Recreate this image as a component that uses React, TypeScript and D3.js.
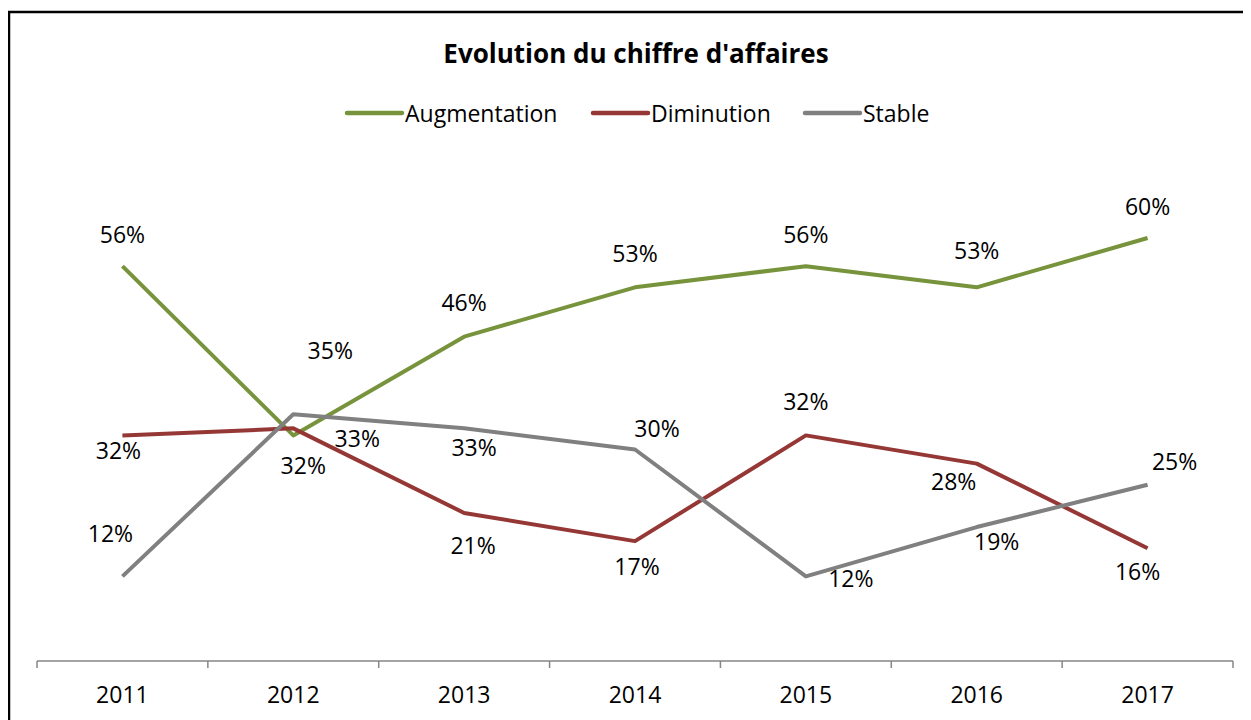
import React from "react";
import * as d3 from "d3";

const years = ["2011", "2012", "2013", "2014", "2015", "2016", "2017"];
const augmentation = [56, 32, 46, 53, 56, 53, 60];
const diminution = [32, 33, 21, 17, 32, 28, 16];
const stable = [12, 35, 33, 30, 12, 19, 25];
const seriesNames = ["Augmentation", "Diminution", "Stable"];
const seriesColors = ["#77933C", "#953735", "#808080"];
// label offsets (dx, dy) relative to points
const augOffsets = [[0, -32], [10, 30], [0, -35], [0, -34], [0, -32], [0, -37], [0, -32]];
const dimOffsets = [[-4, 15], [64, 10], [9, 32], [2, 25], [0, -34], [-23, 17], [-10, 23]];
const staOffsets = [[-12, -43], [37, -64], [10, 19], [22, -22], [45, 2], [20, 14], [27, -24]];

const FONT = "'Open Sans', 'Liberation Sans', sans-serif";

export default function App() {
  const W = 1243, H = 712;
  const ox = -8, oy = -8; // page offset
  const x = d3.scaleBand().domain(years).range([37 + ox, 1233 + ox]);
  const y = d3.scaleLinear().domain([0, 60]).range([661 + oy, 238 + oy]);
  const series = [augmentation, diminution, stable];
  const offsets = [augOffsets, dimOffsets, staOffsets];
  const line = d3.line<number>().x((_, i) => (x(years[i]) as number) + x.bandwidth() / 2).y((v) => y(v));
  const axisY = y(0);
  const ticks = [...years.map((yr) => x(yr) as number), x.range()[1]];
  const legendX = [347, 593, 805];
  return (
    <svg width={W} height={H} style={{ display: "block" }} fontFamily={FONT}>
      <rect x={1} y={4} width={W + 10} height={H + 10} fill="white" stroke="#000" strokeWidth={2.5} />
      <text x={636 + ox} y={53 + oy} textAnchor="middle" dominantBaseline="central" fontWeight="bold" fontSize={26} fill="#000">
        Evolution du chiffre d'affaires
      </text>
      {seriesNames.map((n, i) => (
        <g key={n}>
          <line x1={legendX[i] + ox} x2={legendX[i] + 55 + ox} y1={113 + oy} y2={113 + oy} stroke={seriesColors[i]} strokeWidth={4.5} strokeLinecap="round" />
          <text x={legendX[i] + 58 + ox} y={113 + oy} dominantBaseline="central" fontSize={23} fill="#000">{n}</text>
        </g>
      ))}
      <line x1={x.range()[0]} x2={x.range()[1]} y1={axisY} y2={axisY} stroke="#868686" strokeWidth={1.5} />
      {ticks.map((t, i) => (
        <line key={i} x1={t} x2={t} y1={axisY} y2={axisY + 7} stroke="#868686" strokeWidth={1.5} />
      ))}
      {years.map((yr) => (
        <text key={yr} x={(x(yr) as number) + x.bandwidth() / 2} y={694 + oy} textAnchor="middle" dominantBaseline="central" fontSize={23} fill="#000">{yr}</text>
      ))}
      {series.map((s, si) => (
        <path key={si} d={line(s) || ""} fill="none" stroke={seriesColors[si]} strokeWidth={4} strokeLinejoin="round" />
      ))}
      {series.map((s, si) =>
        s.map((v, i) => (
          <text key={si + "-" + i} x={(x(years[i]) as number) + x.bandwidth() / 2 + offsets[si][i][0]} y={y(v) + offsets[si][i][1]} textAnchor="middle" dominantBaseline="central" fontSize={23} fill="#000">
            {v}%
          </text>
        ))
      )}
    </svg>
  );
}
